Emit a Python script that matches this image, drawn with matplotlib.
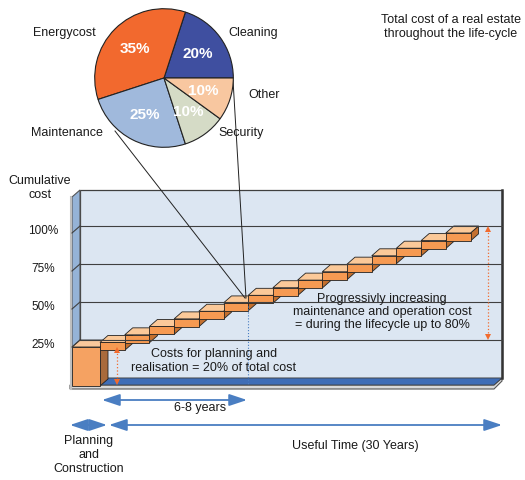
import matplotlib
matplotlib.use('Agg')
import matplotlib.pyplot as plt
from matplotlib.patches import Polygon

plt.rcParams['font.family'] = ['Liberation Sans', 'DejaVu Sans']

# ---------------- DATA ----------------
PIE_LABELS = ['Cleaning', 'Energycost', 'Maintenance', 'Security', 'Other']
PIE_SHARES = [20, 35, 25, 10, 10]
PIE_COLORS = ['#3F4FA0', '#F2692E', '#A0B9DC', '#D5DBC6', '#F8C7A0']

GRID_LEVELS = [25, 50, 75, 100]
GRID_LABELS = ['25%', '50%', '75%', '100%']

PLANNING_LEVEL = 25          # top of the planning/construction block
STEP_YEARS = [0, 2, 4, 6, 8, 10, 12, 14, 16, 18, 20, 22, 24, 26, 28]
STEP_LEVELS = [28, 33, 38.5, 43.5, 48.5, 54, 59, 64, 69, 74.5, 79.5, 85, 90, 95, 100]
STEP_SPAN = 2                # years covered by one step
STEP_THICK = 5.2             # height of one step (in % units)
# --------------------------------------

# ---------------- LAYOUT (pixels) ----------------
W, H = 525, 480
X0, PX_PER_YEAR = 100, 12.35       # front plane, year 0
FLOOR_Y, PX_PER_PCT = 378, 1.52    # back plane, 0 %
DX, DY = 8, 7                      # depth offset (front -> back)
WALL_L, WALL_R, WALL_T = 80, 502, 190
TXT = '#1a1a1a'
BLUE = '#4A7EC2'
ORANGE = '#F26B2E'


def px(year):
    return X0 + PX_PER_YEAR * year


def py(pct):
    return FLOOR_Y - PX_PER_PCT * pct


def block(ax, x0, x1, ytop, ybot, c_front, c_top, c_side):
    # ytop / ybot are front-plane pixel rows
    kw = dict(edgecolor='#222222', linewidth=0.6)
    ax.add_patch(Polygon([(x1, ytop), (x1 + DX, ytop - DY), (x1 + DX, ybot - DY), (x1, ybot)],
                         facecolor=c_side, **kw))
    ax.add_patch(Polygon([(x0, ytop), (x1, ytop), (x1 + DX, ytop - DY), (x0 + DX, ytop - DY)],
                         facecolor=c_top, **kw))
    ax.add_patch(Polygon([(x0, ytop), (x1, ytop), (x1, ybot), (x0, ybot)],
                         facecolor=c_front, **kw))


def arrow(ax, xa, ya, xb, yb):
    ax.annotate('', xy=(xb, yb), xytext=(xa, ya),
                arrowprops=dict(arrowstyle='<|-|>,head_length=0.9,head_width=0.3',
                                color=BLUE, lw=1.3, mutation_scale=12,
                                shrinkA=0, shrinkB=0))


def dotted_arrow(ax, x, ya, yb):
    ax.plot([x, x], [ya + 3, yb - 3], color=ORANGE, lw=0.9, ls=':')
    ax.plot([x], [ya + 3], marker='^', color=ORANGE, ms=5, mew=0)
    ax.plot([x], [yb - 3], marker='v', color=ORANGE, ms=5, mew=0)


fig = plt.figure(figsize=(W / 100, H / 100), dpi=100)
ax = fig.add_axes([0, 0, 1, 1])
ax.set_xlim(0, W)
ax.set_ylim(H, 0)
ax.axis('off')

# 3D frame: floor slab, floor, left wall, back wall
ax.add_patch(Polygon([(70, FLOOR_Y + DY), (WALL_R - DX, FLOOR_Y + DY), (WALL_R, FLOOR_Y),
                      (WALL_R, FLOOR_Y + 3), (WALL_R - DX, FLOOR_Y + DY + 4), (70, FLOOR_Y + DY + 4)],
                     facecolor='#D9D9D9', edgecolor='#555555', lw=0.8))
ax.add_patch(Polygon([(WALL_L, WALL_T), (WALL_R, WALL_T), (WALL_R, FLOOR_Y), (WALL_L, FLOOR_Y)],
                     facecolor='#DCE6F2', edgecolor='#404040', lw=0.9))
ax.plot([WALL_R, WALL_R], [WALL_T, FLOOR_Y], color='#333333', lw=1.8)
ax.add_patch(Polygon([(WALL_L - DX, WALL_T + DY), (WALL_L, WALL_T), (WALL_L, FLOOR_Y),
                      (WALL_L - DX, FLOOR_Y + DY)],
                     facecolor='#95B3D7', edgecolor='#555555', lw=0.8))
ax.plot([WALL_L - DX - 1.5, WALL_L - DX - 1.5], [WALL_T + DY, FLOOR_Y + DY + 4], color='#BFBFBF', lw=1.5)
ax.add_patch(Polygon([(WALL_L, FLOOR_Y), (WALL_R, FLOOR_Y), (WALL_R - DX, FLOOR_Y + DY),
                      (WALL_L - DX, FLOOR_Y + DY)],
                     facecolor='#3F6DB6', edgecolor='#404040', lw=0.6))

# gridlines on back wall and left wall + tick labels
for lvl, lab in zip(GRID_LEVELS, GRID_LABELS):
    y = py(lvl)
    ax.plot([WALL_L, WALL_R], [y, y], color='#404040', lw=0.8)
    ax.plot([WALL_L - DX, WALL_L], [y + DY, y], color='#404040', lw=0.8)
    ax.text(43, y + 5, lab, ha='center', va='center', fontsize=8.5, color=TXT)

ax.text(40, 188, 'Cumulative\ncost', ha='center', va='center', fontsize=9, color=TXT,
        linespacing=1.15)

# dotted blue marker at end of 6-8 years
ax.plot([px(12), px(12)], [py(52) + DY, FLOOR_Y + DY], color=BLUE, lw=0.8, ls=':')

# planning / construction block
block(ax, 72, px(0), py(PLANNING_LEVEL) + DY, FLOOR_Y + DY + 1,
      '#F5A262', '#F9C89C', '#A96A3B')

# stair steps of operation cost
for yr, lvl in zip(STEP_YEARS, STEP_LEVELS):
    ytop = py(lvl) + DY
    block(ax, px(yr), px(yr + STEP_SPAN), ytop, ytop + STEP_THICK * PX_PER_PCT,
          '#F69A52', '#FBC999', '#C4702F')

# orange dotted span arrows
dotted_arrow(ax, 117, py(PLANNING_LEVEL) + DY, FLOOR_Y + DY)
dotted_arrow(ax, 488, py(100), py(25))

# annotations inside the chart
ax.text(214, 361, 'Costs for planning and\nrealisation = 20% of total cost',
        ha='center', va='center', fontsize=9, color=TXT, linespacing=1.15)
ax.text(382, 312, 'Progressivly increasing\nmaintenance and operation cost\n= during the lifecycle up to 80%',
        ha='center', va='center', fontsize=9, color=TXT, linespacing=1.15)

# time arrows below
arrow(ax, 102, 400, 247, 400)
ax.text(200, 408, '6-8 years', ha='center', va='center', fontsize=9, color=TXT)
arrow(ax, 70, 425, 107, 425)
arrow(ax, 109, 425, 502, 425)
ax.text(89, 455, 'Planning\nand\nConstruction', ha='center', va='center', fontsize=9,
        color=TXT, linespacing=1.2)
ax.text(355, 446, 'Useful Time (30 Years)', ha='center', va='center', fontsize=9, color=TXT)

# title
ax.text(451, 27, 'Total cost of a real estate\nthroughout the life-cycle', ha='center',
        va='center', fontsize=9, color=TXT, linespacing=1.3)

# connector lines from pie to the stairs
ax.plot([115, 245], [131, 298], color='#222222', lw=0.7)
ax.plot([233, 246], [80, 298], color='#222222', lw=0.7)

# pie labels
for lab, (x, y) in zip(PIE_LABELS, [(253, 33), (64, 33), (67, 133), (241, 133), (264, 95)]):
    ax.text(x, y, lab, ha='center', va='center', fontsize=9, color=TXT)

# pie chart
cx, cy, r = 164, 78, 70
pax = fig.add_axes([(cx - r) / W, (H - cy - r) / H, 2 * r / W, 2 * r / H])
pax.pie(PIE_SHARES, colors=PIE_COLORS, startangle=0, counterclock=True,
        autopct=lambda p: f'{p:.0f}%', pctdistance=0.6,
        wedgeprops=dict(edgecolor='#222222', linewidth=0.8),
        textprops=dict(color='white', fontsize=11, fontweight='bold'))
pax.set_xlim(-1.01, 1.01)
pax.set_ylim(-1.01, 1.01)

fig.savefig('out.png', dpi=100)
